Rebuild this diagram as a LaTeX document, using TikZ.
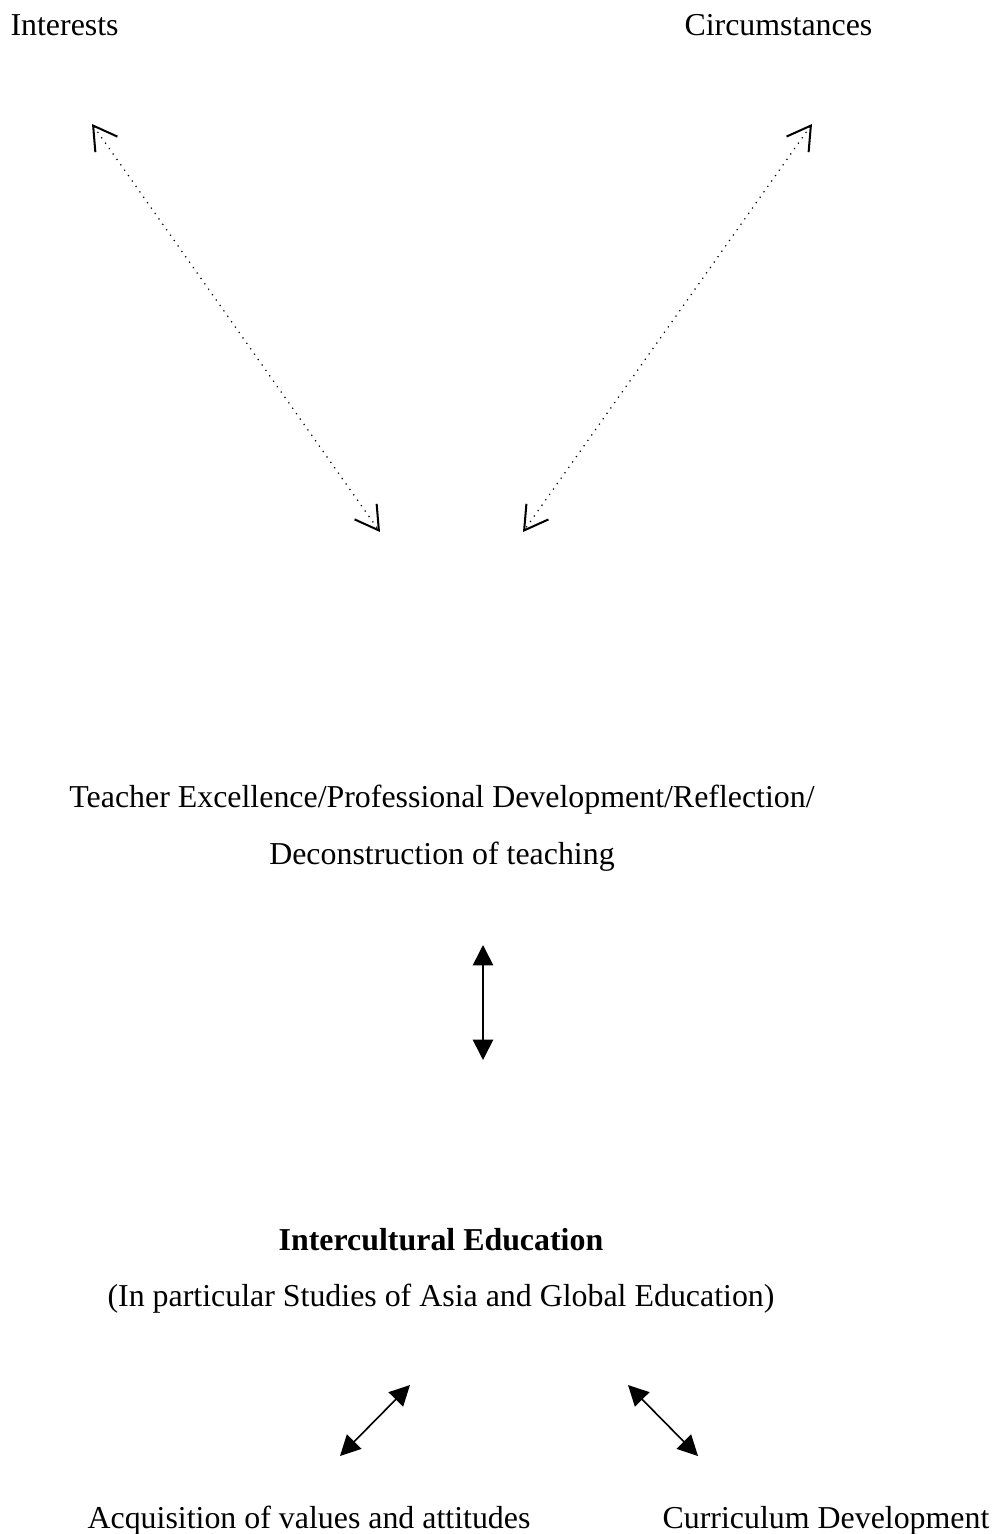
\documentclass[tikz,border=0pt]{standalone}
\usepackage{fontspec}
\setmainfont{Liberation Serif}
\usetikzlibrary{arrows.meta}

\begin{document}
\begin{tikzpicture}[x=0.37pt, y=-0.37pt,
    every node/.style={font=\fontsize{11.8}{21}\selectfont},
    linkopen/.style={dotted, line width=0.45pt, {Straight Barb[length=8.5pt, width=10pt, line width=0.75pt]}-{Straight Barb[length=8.5pt, width=10pt, line width=0.75pt]}},
    linkfull/.style={line width=0.6pt, {Triangle[length=7.5pt, width=7.5pt]}-{Triangle[length=7.5pt, width=7.5pt]}}]
    \useasboundingbox (0,0) rectangle (1000,1534);

    % top labels
    \node[anchor=west, inner sep=0pt] (interests) at (10,25) {Interests};
    \node[anchor=west, inner sep=0pt] (circum) at (684,25) {Circumstances};

    % dotted links
    \coordinate (intEnd) at (92,124);
    \coordinate (cirEnd) at (812,124);
    \coordinate (midL) at (380,532);
    \coordinate (midR) at (523,532);
    \draw[linkopen] (intEnd) -- (midL);
    \draw[linkopen] (cirEnd) -- (midR);

    % teacher
    \node[align=center] (teacher) at (442,828) {Teacher Excellence/Professional Development/Reflection/\\Deconstruction of teaching};

    \coordinate (vTop) at (483,945);
    \coordinate (vBot) at (483,1060);
    \draw[linkfull] (vTop) -- (vBot);

    % intercultural
    \node (ice) at (441,1240) {\textbf{Intercultural Education}};
    \node (icsub) at (441,1299) {(In particular Studies of Asia and Global Education)};

    \coordinate (aTop) at (410,1385);
    \coordinate (aBot) at (340,1456);
    \coordinate (cTop) at (628,1385);
    \coordinate (cBot) at (698,1456);
    \draw[linkfull] (aTop) -- (aBot);
    \draw[linkfull] (cTop) -- (cBot);

    % bottom labels
    \node (acq) at (309,1521) {Acquisition of values and attitudes};
    \node (curr) at (826,1521) {Curriculum Development};
\end{tikzpicture}
\end{document}
